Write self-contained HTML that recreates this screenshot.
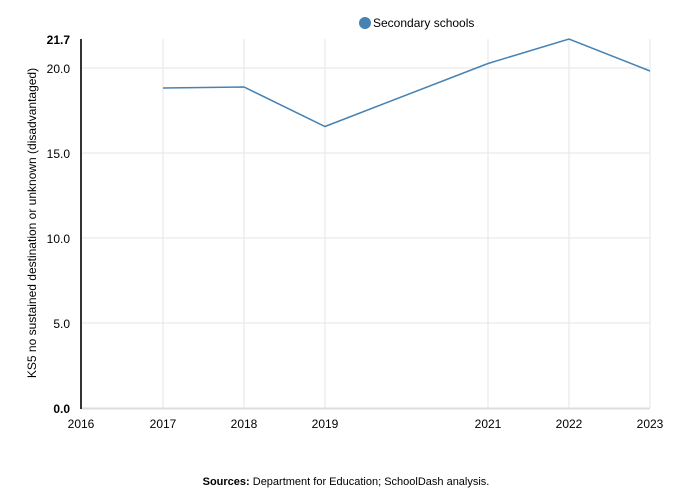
<!DOCTYPE html>
<html><head><meta charset="utf-8"><style>
html,body{margin:0;padding:0;background:#fff;}
svg{display:block;font-family:"Liberation Sans",Arial,sans-serif;}
</style></head><body>
<svg width="700" height="500" viewBox="0 0 700 500">
<g stroke="#e6e6e6" stroke-width="1">
<line x1="81" y1="68" x2="650" y2="68"/>
<line x1="81" y1="153" x2="650" y2="153"/>
<line x1="81" y1="238" x2="650" y2="238"/>
<line x1="81" y1="323" x2="650" y2="323"/>
<line x1="163" y1="39" x2="163" y2="408"/>
<line x1="244" y1="39" x2="244" y2="408"/>
<line x1="325" y1="39" x2="325" y2="408"/>
<line x1="488" y1="39" x2="488" y2="408"/>
<line x1="569" y1="39" x2="569" y2="408"/>
<line x1="650" y1="39" x2="650" y2="408"/>
</g>
<line x1="81" y1="408.5" x2="650" y2="408.5" stroke="#ddd" stroke-width="2"/>
<line x1="81" y1="39" x2="81" y2="409" stroke="#333" stroke-width="2"/>
<polyline fill="none" stroke="#4682b4" stroke-width="1.5" points="163,88 244,87 325,126.5 488,63.5 569,39 650,71"/>
<g font-size="12" fill="#000" text-anchor="end">
<text x="70" y="44" font-weight="bold">21.7</text>
<text x="70" y="73">20.0</text>
<text x="70" y="158">15.0</text>
<text x="70" y="243">10.0</text>
<text x="70" y="328">5.0</text>
<text x="70" y="413" font-weight="bold">0.0</text>
</g>
<g font-size="12" fill="#000" text-anchor="middle">
<text x="81" y="428">2016</text>
<text x="163" y="428">2017</text>
<text x="244" y="428">2018</text>
<text x="325" y="428">2019</text>
<text x="488" y="428">2021</text>
<text x="569" y="428">2022</text>
<text x="650" y="428">2023</text>
</g>
<text transform="translate(36,223) rotate(-90)" font-size="12" text-anchor="middle">KS5 no sustained destination or unknown (disadvantaged)</text>
<circle cx="365" cy="23" r="6" fill="#4682b4"/>
<text x="373" y="27" font-size="12">Secondary schools</text>
<text x="346" y="485" font-size="11" text-anchor="middle"><tspan font-weight="bold">Sources:</tspan> Department for Education; SchoolDash analysis.</text>
</svg>
</body></html>
